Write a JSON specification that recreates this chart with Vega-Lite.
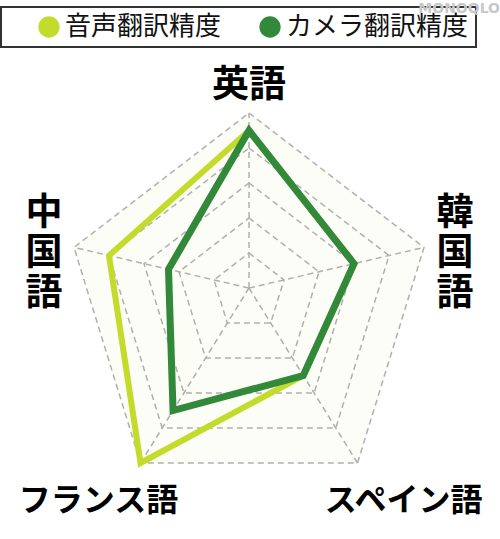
{
  "$schema": "https://vega.github.io/schema/vega-lite/v6.json",
  "description": "Radar chart: voice vs camera translation accuracy by language.",
  "width": 500,
  "height": 539,
  "padding": 0,
  "autosize": "none",
  "background": "white",
  "title": {
    "text": "MONOQLO",
    "anchor": "end",
    "offset": -16,
    "fontSize": 14,
    "font": "DejaVu Sans",
    "fontWeight": "bold",
    "color": "#c8c8c8"
  },
  "datasets": {
    "axes": [
      {"axis": "英語", "label": "英語", "k": 0, "dx": 0, "dy": 1, "levels": [0, 1, 2, 3, 4, 5]},
      {"axis": "韓国語", "label": "韓\n国\n語", "k": 1, "dx": 1.0, "dy": 0.232, "levels": [0, 1, 2, 3, 4, 5]},
      {"axis": "スペイン語", "label": "スペイン語", "k": 2, "dx": 0.62, "dy": -1.0, "levels": [0, 1, 2, 3, 4, 5]},
      {"axis": "フランス語", "label": "フランス語", "k": 3, "dx": -0.62, "dy": -1.0, "levels": [0, 1, 2, 3, 4, 5]},
      {"axis": "中国語", "label": "中\n国\n語", "k": 4, "dx": -1.0, "dy": 0.232, "levels": [0, 1, 2, 3, 4, 5]}
    ],
    "scores": [
      {"series": "音声翻訳精度", "axis": "英語", "value": 4.5},
      {"series": "音声翻訳精度", "axis": "韓国語", "value": 3.0},
      {"series": "音声翻訳精度", "axis": "スペイン語", "value": 2.5},
      {"series": "音声翻訳精度", "axis": "フランス語", "value": 5.0},
      {"series": "音声翻訳精度", "axis": "中国語", "value": 4.0},
      {"series": "カメラ翻訳精度", "axis": "英語", "value": 4.5},
      {"series": "カメラ翻訳精度", "axis": "韓国語", "value": 3.0},
      {"series": "カメラ翻訳精度", "axis": "スペイン語", "value": 2.5},
      {"series": "カメラ翻訳精度", "axis": "フランス語", "value": 3.5},
      {"series": "カメラ翻訳精度", "axis": "中国語", "value": 2.3}
    ]
  },
  "layer": [
    {
      "data": {"name": "axes"},
      "transform": [
        {"calculate": "5 * datum.dx", "as": "x"},
        {"calculate": "5 * datum.dy", "as": "y"}
      ],
      "mark": {"type": "line", "interpolate": "linear-closed", "fill": "#fcfdf6", "strokeOpacity": 0},
      "encoding": {
        "x": {"field": "x", "type": "quantitative", "axis": null, "scale": {"domain": [-7.114, 7.171], "nice": false, "zero": false}},
        "y": {"field": "y", "type": "quantitative", "axis": null, "scale": {"domain": [-7.171, 8.229], "nice": false, "zero": false}},
        "order": {"field": "k", "type": "quantitative"}
      }
    },
    {
      "data": {"name": "axes"},
      "transform": [
        {"flatten": ["levels"], "as": ["level"]},
        {"filter": "datum.level > 0"},
        {"calculate": "datum.level * datum.dx", "as": "x"},
        {"calculate": "datum.level * datum.dy", "as": "y"}
      ],
      "mark": {"type": "line", "interpolate": "linear-closed", "stroke": "#b0b0b0", "strokeWidth": 1.5, "strokeDash": [6, 4]},
      "encoding": {
        "x": {"field": "x", "type": "quantitative", "axis": null, "scale": {"domain": [-7.114, 7.171], "nice": false, "zero": false}},
        "y": {"field": "y", "type": "quantitative", "axis": null, "scale": {"domain": [-7.171, 8.229], "nice": false, "zero": false}},
        "detail": {"field": "level", "type": "nominal"},
        "order": {"field": "k", "type": "quantitative"}
      }
    },
    {
      "data": {"name": "axes"},
      "transform": [
        {"flatten": ["levels"], "as": ["level"]},
        {"calculate": "datum.level * datum.dx", "as": "x"},
        {"calculate": "datum.level * datum.dy", "as": "y"}
      ],
      "mark": {"type": "line", "stroke": "#b0b0b0", "strokeWidth": 1.5, "strokeDash": [6, 4]},
      "encoding": {
        "x": {"field": "x", "type": "quantitative", "axis": null, "scale": {"domain": [-7.114, 7.171], "nice": false, "zero": false}},
        "y": {"field": "y", "type": "quantitative", "axis": null, "scale": {"domain": [-7.171, 8.229], "nice": false, "zero": false}},
        "detail": {"field": "axis", "type": "nominal"},
        "order": {"field": "level", "type": "quantitative"}
      }
    },
    {
      "data": {"name": "scores"},
      "transform": [
        {"filter": "datum.series === '音声翻訳精度'"},
        {"lookup": "axis", "from": {"data": {"name": "axes"}, "key": "axis", "fields": ["dx", "dy", "k"]}},
        {"calculate": "datum.value * datum.dx", "as": "x"},
        {"calculate": "datum.value * datum.dy", "as": "y"}
      ],
      "mark": {"type": "line", "interpolate": "linear-closed", "strokeWidth": 6, "strokeJoin": "miter"},
      "encoding": {
        "x": {"field": "x", "type": "quantitative", "axis": null, "scale": {"domain": [-7.114, 7.171], "nice": false, "zero": false}},
        "y": {"field": "y", "type": "quantitative", "axis": null, "scale": {"domain": [-7.171, 8.229], "nice": false, "zero": false}},
        "order": {"field": "k", "type": "quantitative"},
        "color": {
          "field": "series",
          "type": "nominal",
          "scale": {"domain": ["音声翻訳精度", "カメラ翻訳精度"], "range": ["#c3dc2c", "#32893a"]},
          "legend": {
            "title": null,
            "orient": "none",
            "direction": "horizontal",
            "legendX": 1,
            "legendY": 7,
            "padding": 7,
            "symbolType": "circle",
            "symbolSize": 452,
            "symbolOffset": 28,
            "symbolStrokeWidth": 0,
            "labelOffset": 3,
            "columnPadding": 7,
            "labelFont": "Noto Sans CJK JP",
            "labelFontSize": 26,
            "labelColor": "#111",
            "labelLimit": 400,
            "strokeColor": "#333333",
            "encode": {
              "legend": {"update": {"strokeWidth": {"value": 2}}},
              "symbols": {"update": {"fill": {"scale": "color", "field": "value"}, "fillOpacity": {"value": 1}, "strokeWidth": {"value": 0}}}
            }
          }
        }
      }
    },
    {
      "data": {"name": "scores"},
      "transform": [
        {"filter": "datum.series === 'カメラ翻訳精度'"},
        {"lookup": "axis", "from": {"data": {"name": "axes"}, "key": "axis", "fields": ["dx", "dy", "k"]}},
        {"calculate": "datum.value * datum.dx", "as": "x"},
        {"calculate": "datum.value * datum.dy", "as": "y"}
      ],
      "mark": {"type": "line", "interpolate": "linear-closed", "strokeWidth": 7, "strokeJoin": "miter"},
      "encoding": {
        "x": {"field": "x", "type": "quantitative", "axis": null, "scale": {"domain": [-7.114, 7.171], "nice": false, "zero": false}},
        "y": {"field": "y", "type": "quantitative", "axis": null, "scale": {"domain": [-7.171, 8.229], "nice": false, "zero": false}},
        "order": {"field": "k", "type": "quantitative"},
        "color": {"field": "series", "type": "nominal"}
      }
    },
    {
      "data": {"name": "axes"},
      "transform": [
        {"filter": "datum.axis === '英語'"},
        {"calculate": "5 * datum.dx", "as": "x"},
        {"calculate": "5 * datum.dy", "as": "y"}
      ],
      "mark": {"type": "text", "font": "Noto Sans CJK JP", "fontWeight": "bold", "fontSize": 37, "baseline": "middle", "dy": -27, "color": "#000"},
      "encoding": {
        "x": {"field": "x", "type": "quantitative", "axis": null, "scale": {"domain": [-7.114, 7.171], "nice": false, "zero": false}},
        "y": {"field": "y", "type": "quantitative", "axis": null, "scale": {"domain": [-7.171, 8.229], "nice": false, "zero": false}},
        "text": {"field": "label", "type": "nominal"}
      }
    },
    {
      "data": {"name": "axes"},
      "transform": [
        {"filter": "datum.axis === '韓国語'"},
        {"calculate": "5 * datum.dx", "as": "x"},
        {"calculate": "5 * datum.dy", "as": "y"}
      ],
      "mark": {"type": "text", "font": "Noto Sans CJK JP", "fontWeight": "bold", "fontSize": 37, "lineBreak": "\n", "lineHeight": 40, "baseline": "middle", "dx": 31, "dy": -33, "color": "#000"},
      "encoding": {
        "x": {"field": "x", "type": "quantitative", "axis": null, "scale": {"domain": [-7.114, 7.171], "nice": false, "zero": false}},
        "y": {"field": "y", "type": "quantitative", "axis": null, "scale": {"domain": [-7.171, 8.229], "nice": false, "zero": false}},
        "text": {"field": "label", "type": "nominal"}
      }
    },
    {
      "data": {"name": "axes"},
      "transform": [
        {"filter": "datum.axis === '中国語'"},
        {"calculate": "5 * datum.dx", "as": "x"},
        {"calculate": "5 * datum.dy", "as": "y"}
      ],
      "mark": {"type": "text", "font": "Noto Sans CJK JP", "fontWeight": "bold", "fontSize": 37, "lineBreak": "\n", "lineHeight": 40, "baseline": "middle", "dx": -30, "dy": -33, "color": "#000"},
      "encoding": {
        "x": {"field": "x", "type": "quantitative", "axis": null, "scale": {"domain": [-7.114, 7.171], "nice": false, "zero": false}},
        "y": {"field": "y", "type": "quantitative", "axis": null, "scale": {"domain": [-7.171, 8.229], "nice": false, "zero": false}},
        "text": {"field": "label", "type": "nominal"}
      }
    },
    {
      "data": {"name": "axes"},
      "transform": [
        {"filter": "datum.axis === 'スペイン語'"},
        {"calculate": "5 * datum.dx", "as": "x"},
        {"calculate": "5 * datum.dy", "as": "y"}
      ],
      "mark": {"type": "text", "font": "Noto Sans CJK JP", "fontWeight": "bold", "fontSize": 32, "baseline": "middle", "dx": 46, "dy": 38, "color": "#000"},
      "encoding": {
        "x": {"field": "x", "type": "quantitative", "axis": null, "scale": {"domain": [-7.114, 7.171], "nice": false, "zero": false}},
        "y": {"field": "y", "type": "quantitative", "axis": null, "scale": {"domain": [-7.171, 8.229], "nice": false, "zero": false}},
        "text": {"field": "label", "type": "nominal"}
      }
    },
    {
      "data": {"name": "axes"},
      "transform": [
        {"filter": "datum.axis === 'フランス語'"},
        {"calculate": "5 * datum.dx", "as": "x"},
        {"calculate": "5 * datum.dy", "as": "y"}
      ],
      "mark": {"type": "text", "font": "Noto Sans CJK JP", "fontWeight": "bold", "fontSize": 32, "baseline": "middle", "dx": -42, "dy": 38, "color": "#000"},
      "encoding": {
        "x": {"field": "x", "type": "quantitative", "axis": null, "scale": {"domain": [-7.114, 7.171], "nice": false, "zero": false}},
        "y": {"field": "y", "type": "quantitative", "axis": null, "scale": {"domain": [-7.171, 8.229], "nice": false, "zero": false}},
        "text": {"field": "label", "type": "nominal"}
      }
    }
  ],
  "config": {
    "view": {"stroke": null}
  }
}
